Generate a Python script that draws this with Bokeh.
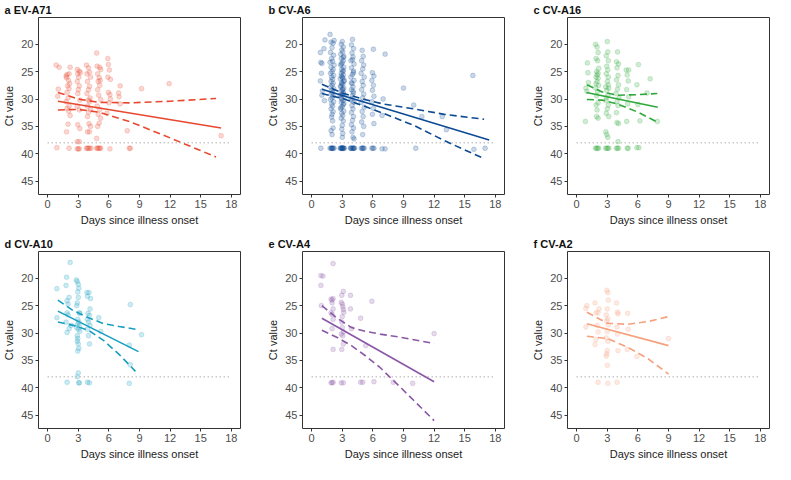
from bokeh.plotting import figure
from bokeh.layouts import column, row
from bokeh.models import Range1d, FixedTicker, Title
from bokeh.embed import file_html
from bokeh.resources import INLINE

FONT = "Liberation Sans"

x_ticks = [0, 3, 6, 9, 12, 15, 18]
y_ticks = [20, 25, 30, 35, 40, 45]
lod_x = [0, 18]
lod_ct = 38

# ---------------- data ----------------
ev_a71_pts = [
    (0.83, 23.8), (1.13, 24.2), (1.04, 28.2), (0.98, 29.5), (0.9, 38.9),
    (1.8, 25.8), (1.9, 25.5), (2.1, 25.4), (2.2, 24.2), (1.85, 26.1), (2.05, 26.6), (2.15, 27.2),
    (1.95, 27.6), (2.1, 28.1), (1.9, 28.8), (2.0, 29.8), (1.8, 30.5), (2.1, 31.3), (1.9, 31.7),
    (2.05, 32.2), (2.0, 34.6), (1.85, 36.0), (2.1, 39.0), (2.2, 33.0),
    (2.9, 24.6), (3.1, 24.9), (3.2, 25.2), (2.95, 25.4), (3.05, 26.0), (2.9, 26.8), (3.1, 27.6),
    (3.0, 28.3), (2.95, 29.0), (3.15, 30.2), (2.9, 31.3), (3.1, 32.0), (2.95, 34.7), (3.15, 35.4),
    (2.9, 37.8), (3.1, 37.8), (2.9, 39.1), (3.0, 39.1), (3.1, 39.1),
    (3.8, 23.8), (4.0, 24.3), (4.1, 25.1), (3.85, 25.4), (4.2, 26.0), (3.9, 26.8), (4.1, 27.7),
    (4.0, 28.3), (3.85, 29.0), (4.15, 29.8), (4.0, 30.2), (4.1, 30.5), (3.9, 31.3), (4.2, 31.9),
    (4.0, 32.4), (3.9, 33.2), (4.05, 34.5), (4.2, 35.0), (3.9, 36.0), (4.1, 36.0),
    (3.8, 39.0), (3.9, 39.0), (4.0, 39.0), (4.1, 39.0), (4.25, 39.0),
    (4.8, 21.6), (4.85, 24.0), (5.1, 24.2), (5.2, 24.6), (4.9, 25.4), (5.05, 26.1), (5.15, 26.6),
    (4.95, 26.8), (5.1, 27.5), (4.9, 28.3), (5.0, 29.3), (5.2, 30.1), (4.85, 31.3), (5.1, 31.9),
    (4.95, 32.8), (5.2, 33.5), (5.05, 34.4), (4.9, 35.0), (4.8, 37.2),
    (4.8, 39.0), (4.9, 39.0), (5.0, 39.0), (5.1, 39.0), (5.2, 39.0),
    (5.9, 22.6), (5.95, 23.7), (6.05, 24.7), (5.9, 26.0), (6.15, 26.4), (5.95, 28.8), (6.1, 29.2),
    (6.15, 30.0), (6.0, 30.7), (5.8, 32.6), (6.1, 39.1),
    (7.1, 27.6), (6.95, 28.9), (7.0, 29.6), (7.1, 30.9),
    (7.8, 35.8), (8.0, 39.0), (8.1, 39.0),
    (9.2, 28.1), (11.9, 27.2), (17.0, 36.7),
]

cv_a6_pts = [
    (0.85, 21.5), (0.9, 23.3), (1.0, 23.5), (0.95, 25.3), (0.85, 26.7), (1.05, 28.5), (1.0, 29.3),
    (1.25, 30.3), (0.9, 39.0), (1.3, 19.2), (1.2, 20.8),
    (1.8, 18.2), (2.2, 19.3), (1.9, 19.6), (2.1, 19.8), (2.0, 20.6), (1.85, 21.5), (2.15, 22.0),
    (1.95, 22.6), (2.05, 23.1), (1.8, 23.3), (2.2, 23.8), (1.9, 24.2), (2.1, 24.6), (2.0, 25.0),
    (1.85, 25.3), (2.15, 25.7), (1.95, 26.0), (2.05, 26.4), (1.9, 26.8), (2.1, 27.1), (2.0, 27.5),
    (1.85, 27.8), (2.15, 28.1), (1.95, 28.4), (2.05, 28.8), (1.9, 29.1), (2.1, 29.4), (2.0, 29.8),
    (1.85, 30.1), (2.15, 30.5), (1.95, 30.9), (2.05, 31.3), (1.9, 31.8), (2.1, 32.3), (2.0, 32.8),
    (1.95, 33.3), (2.05, 34.0), (2.1, 35.3), (1.9, 35.8), (2.0, 36.5),
    (1.8, 39.0), (1.9, 39.0), (1.95, 39.0), (2.0, 39.0), (2.05, 39.0), (2.1, 39.0), (2.2, 39.0),
    (3.0, 19.5), (2.9, 20.0), (3.1, 20.5), (2.95, 21.0), (3.05, 21.4), (2.85, 21.8), (3.15, 22.2),
    (2.9, 22.6), (3.1, 23.0), (3.0, 23.4), (2.85, 23.8), (3.15, 24.2), (2.95, 24.6), (3.05, 25.0),
    (2.9, 25.3), (3.1, 25.6), (3.0, 26.0), (2.8, 26.3), (3.2, 26.6), (2.95, 27.0), (3.05, 27.3),
    (2.85, 27.6), (3.15, 28.0), (3.0, 28.3), (2.9, 28.6), (3.1, 29.0), (2.8, 29.3), (3.2, 29.6),
    (2.95, 30.0), (3.05, 30.3), (2.9, 30.6), (3.1, 31.0), (3.0, 31.4), (2.85, 31.8), (3.15, 32.2),
    (2.95, 32.6), (3.05, 33.0), (2.9, 33.5), (3.1, 34.0), (3.0, 34.8), (2.95, 35.5), (3.05, 36.3),
    (3.0, 37.0), (3.1, 22.4), (2.9, 23.6), (3.1, 24.8), (2.9, 25.8), (3.15, 26.8), (2.85, 27.8),
    (3.1, 28.8), (2.9, 29.8), (3.15, 30.8), (2.85, 31.6), (3.05, 26.2), (2.95, 27.2), (3.05, 28.2),
    (2.95, 29.2),
    (2.8, 39.0), (2.85, 39.0), (2.9, 39.0), (2.95, 39.0), (3.0, 39.0), (3.05, 39.0), (3.1, 39.0),
    (3.15, 39.0), (3.2, 39.0), (3.0, 38.9),
    (4.0, 19.1), (3.9, 20.1), (4.1, 20.8), (3.95, 21.6), (4.05, 22.3), (3.85, 23.0), (4.15, 23.6),
    (3.9, 24.3), (4.1, 24.9), (4.0, 25.5), (3.85, 26.0), (4.15, 26.6), (3.95, 27.2), (4.05, 27.8),
    (3.9, 28.3), (4.1, 28.9), (4.0, 29.4), (3.85, 30.0), (4.15, 30.6), (3.95, 31.2), (4.05, 31.8),
    (3.9, 32.5), (4.1, 33.2), (4.0, 33.9), (3.9, 34.7), (4.1, 35.3), (3.95, 36.0), (4.05, 37.0),
    (4.15, 37.3), (4.1, 25.2), (3.9, 27.0), (4.05, 28.6), (3.95, 30.3), (4.0, 22.8),
    (3.8, 39.0), (3.85, 39.0), (3.9, 39.0), (4.0, 39.0), (4.05, 39.0), (4.1, 39.0), (4.15, 39.0),
    (4.2, 39.0),
    (4.95, 21.1), (5.05, 22.2), (4.9, 23.0), (5.1, 23.8), (5.0, 24.5), (4.85, 25.3), (5.15, 26.0),
    (4.95, 26.8), (5.05, 27.5), (4.9, 28.3), (5.1, 29.1), (5.0, 29.8), (4.85, 30.6), (5.15, 31.5),
    (4.95, 32.3), (5.05, 33.2), (4.9, 34.2), (5.1, 35.0), (5.0, 36.5),
    (4.85, 39.0), (4.95, 39.0), (5.0, 39.0), (5.05, 39.0), (5.15, 39.0),
    (6.05, 20.9), (5.95, 25.2), (6.1, 25.8), (5.9, 26.6), (6.05, 27.5), (5.95, 28.4), (6.1, 29.5),
    (5.9, 30.5), (6.05, 31.7), (5.95, 32.8), (6.1, 34.5),
    (5.9, 39.0), (6.0, 39.0), (6.1, 39.0),
    (7.2, 21.8), (7.0, 30.0), (6.9, 33.0), (6.9, 39.1), (7.2, 39.1),
    (9.0, 28.0), (10.0, 31.1), (10.2, 39.0), (10.8, 33.2), (12.8, 33.2), (13.2, 35.6),
    (15.8, 25.7), (15.9, 39.2), (17.0, 39.0),
]

cv_a16_pts = [
    (0.85, 34.1), (0.9, 28.0), (1.0, 28.6), (1.05, 23.4), (1.1, 25.2), (1.15, 27.0),
    (1.85, 20.0), (2.0, 20.5), (2.1, 21.5), (1.9, 22.6), (2.05, 23.0), (2.15, 24.4), (1.95, 25.0),
    (2.1, 25.3), (1.9, 26.0), (2.0, 26.8), (2.15, 27.5), (1.85, 28.0), (2.05, 28.6), (1.95, 29.4),
    (2.1, 30.7), (1.9, 31.1), (2.0, 32.0), (1.95, 33.2), (2.1, 33.5), (2.0, 25.6), (2.1, 26.2),
    (1.9, 27.2),
    (1.85, 39.0), (1.95, 39.0), (2.05, 39.0), (2.15, 39.0),
    (3.0, 19.5), (3.05, 21.4), (2.9, 22.1), (3.1, 23.0), (2.95, 24.0), (3.05, 24.7), (2.9, 25.4),
    (3.1, 26.0), (3.0, 26.8), (2.85, 27.8), (3.15, 28.0), (2.95, 28.4), (3.05, 29.3), (2.9, 30.3),
    (3.1, 31.1), (3.0, 31.8), (2.9, 32.6), (3.15, 33.2), (2.85, 36.0), (2.95, 36.5), (3.05, 37.0),
    (3.1, 27.4), (2.9, 29.8),
    (2.85, 39.0), (2.95, 39.0), (3.05, 39.0), (3.15, 39.0),
    (4.0, 21.4), (3.9, 23.2), (4.1, 23.6), (3.95, 24.3), (4.05, 25.7), (3.9, 26.5), (4.1, 27.4),
    (4.0, 28.2), (3.85, 29.0), (4.15, 29.8), (3.95, 30.5), (4.05, 31.2), (3.9, 32.5), (3.95, 34.3),
    (4.1, 34.5), (4.05, 37.8),
    (3.9, 39.0), (4.0, 39.0), (4.1, 39.0),
    (4.85, 24.7), (5.1, 24.7), (4.95, 25.6), (5.05, 26.7), (4.9, 28.3), (5.1, 29.6), (5.0, 30.9),
    (4.9, 34.1), (4.95, 39.0), (5.05, 39.0),
    (6.05, 23.7), (5.9, 27.4), (6.0, 31.0), (6.2, 34.0), (5.9, 38.9), (6.1, 38.9),
    (7.2, 26.3), (6.9, 28.9), (7.9, 34.1),
]

cv_a10_pts = [
    (0.9, 21.9), (0.9, 27.2), (1.8, 21.3), (1.85, 19.8), (1.9, 24.1), (2.0, 24.7), (1.9, 26.3),
    (1.8, 28.0), (1.9, 29.9), (2.1, 23.5), (2.2, 17.1), (2.0, 26.7), (2.1, 29.2), (2.3, 28.6),
    (1.9, 39.0),
    (2.8, 20.3), (2.9, 20.6), (3.0, 21.1), (3.05, 21.8), (2.95, 22.5), (3.0, 23.5), (2.9, 24.5),
    (2.85, 25.0), (3.1, 26.3), (3.15, 26.4), (2.95, 27.5), (3.05, 28.0), (2.9, 28.5), (3.1, 28.7),
    (2.85, 29.0), (3.0, 29.3), (3.15, 29.7), (2.9, 30.5), (2.95, 31.0), (2.9, 31.5), (3.0, 32.0),
    (3.05, 32.8), (2.95, 33.3), (3.0, 37.3), (2.9, 38.0), (3.05, 39.1), (3.1, 39.1),
    (3.85, 22.6), (4.05, 22.6), (3.9, 23.3), (4.2, 23.7), (4.15, 25.6), (3.95, 26.4), (4.1, 26.8),
    (3.9, 27.5), (4.0, 28.0), (4.15, 28.6), (3.9, 29.3), (4.0, 30.5), (4.1, 32.0), (3.9, 39.0),
    (4.1, 39.1),
    (5.0, 27.2), (5.2, 29.7),
    (8.1, 24.8), (8.0, 32.2), (8.1, 35.8), (8.0, 39.2), (9.2, 30.3),
]

cv_a4_pts = [
    (0.9, 19.5), (1.1, 19.6), (0.9, 21.3), (0.95, 25.0),
    (2.1, 17.3), (1.9, 23.8), (2.0, 24.0), (2.1, 23.7), (2.0, 24.5), (2.1, 25.6), (1.9, 26.3),
    (2.0, 26.6), (2.1, 27.5), (2.0, 29.2), (2.1, 33.0), (1.9, 39.1), (2.0, 39.1), (2.1, 39.0),
    (3.1, 22.4), (2.95, 23.1), (2.9, 24.4), (3.0, 24.7), (3.05, 25.2), (3.1, 25.7), (3.15, 26.2),
    (3.0, 27.0), (2.95, 28.0), (3.0, 29.0), (3.1, 29.8), (2.9, 30.2), (3.05, 30.5), (3.1, 32.0),
    (2.95, 33.0), (2.9, 39.1), (3.1, 39.1),
    (3.8, 23.1), (3.8, 25.6), (3.9, 29.2), (4.8, 27.3), (4.8, 39.0), (5.0, 39.0), (5.3, 32.3),
    (5.9, 24.2), (6.1, 38.9), (8.0, 39.0), (9.9, 39.2), (12.0, 30.1),
]

cv_a2_pts = [
    (0.9, 25.5), (1.0, 25.0), (0.9, 28.9),
    (1.8, 24.5), (1.9, 26.3), (2.0, 28.6), (2.1, 29.8), (1.9, 31.2), (1.8, 32.1), (2.1, 26.3),
    (2.2, 25.6), (2.1, 39.0),
    (2.95, 22.2), (3.05, 22.6), (3.1, 24.0), (3.0, 25.6), (2.9, 26.7), (3.05, 27.4), (2.95, 27.8),
    (3.1, 28.5), (3.0, 29.7), (2.9, 30.9), (3.05, 31.5), (3.0, 33.2), (2.95, 33.8), (2.9, 34.2),
    (3.0, 35.9), (3.05, 39.2),
    (3.9, 24.5), (4.0, 26.2), (4.05, 26.5), (3.95, 28.9), (4.0, 30.2), (4.05, 33.2), (3.95, 39.0),
    (5.0, 26.4), (5.05, 29.3), (4.95, 33.0), (5.9, 34.3), (9.0, 31.0),
]

# fitted line (start / end) and confidence band read at several days
ev_a71_fit_x = [1.0, 17.0]
ev_a71_fit_ct = [30.4, 35.3]
ev_a71_ci_x = [1.0, 3.0, 5.0, 8.0, 12.0, 16.5]
ev_a71_ci_lo = [28.8, 30.0, 30.6, 30.7, 30.4, 29.9]
ev_a71_ci_hi = [32.0, 31.9, 32.4, 34.1, 37.1, 40.6]

cv_a6_fit_x = [1.0, 17.4]
cv_a6_fit_ct = [28.2, 37.5]
cv_a6_ci_x = [1.0, 3.0, 5.0, 7.0, 10.0, 13.0, 16.9]
cv_a6_ci_lo = [27.3, 28.9, 30.0, 30.9, 31.8, 32.8, 33.7]
cv_a6_ci_hi = [29.0, 29.9, 31.2, 32.6, 34.8, 37.6, 40.9]

cv_a16_fit_x = [0.95, 7.95]
cv_a16_fit_ct = [28.8, 31.5]
cv_a16_ci_x = [1.0, 2.5, 4.0, 6.0, 7.9]
cv_a16_ci_lo = [27.4, 28.7, 29.3, 29.2, 29.0]
cv_a16_ci_hi = [30.1, 30.2, 30.9, 32.4, 34.2]

cv_a10_fit_x = [1.0, 8.9]
cv_a10_fit_ct = [26.0, 33.4]
cv_a10_ci_x = [1.0, 2.5, 4.0, 5.5, 7.0, 8.6, 8.9]
cv_a10_ci_lo = [24.0, 25.9, 27.2, 28.3, 28.8, 29.3, 29.4]
cv_a10_ci_hi = [28.0, 28.6, 29.5, 31.4, 33.9, 37.0, None]

cv_a4_fit_x = [1.0, 12.0]
cv_a4_fit_ct = [27.3, 38.9]
cv_a4_ci_x = [1.0, 2.5, 3.9, 5.3, 6.7, 8.8, 12.0]
cv_a4_ci_lo = [25.0, 27.3, 29.0, 29.7, 30.2, 30.8, 31.9]
cv_a4_ci_hi = [29.5, 30.8, 32.3, 34.2, 36.3, 40.1, 46.0]

cv_a2_fit_x = [1.0, 9.0]
cv_a2_fit_ct = [28.3, 32.3]
cv_a2_ci_x = [1.0, 3.0, 5.0, 7.0, 9.0]
cv_a2_ci_lo = [26.2, 28.2, 28.4, 27.9, 27.0]
cv_a2_ci_hi = [30.6, 31.0, 32.6, 34.7, 37.5]

panels = [
    ("a", "EV-A71", "#E8482F", ev_a71_pts, ev_a71_fit_x, ev_a71_fit_ct, ev_a71_ci_x, ev_a71_ci_lo, ev_a71_ci_hi),
    ("b", "CV-A6", "#0C4A93", cv_a6_pts, cv_a6_fit_x, cv_a6_fit_ct, cv_a6_ci_x, cv_a6_ci_lo, cv_a6_ci_hi),
    ("c", "CV-A16", "#2FA83B", cv_a16_pts, cv_a16_fit_x, cv_a16_fit_ct, cv_a16_ci_x, cv_a16_ci_lo, cv_a16_ci_hi),
    ("d", "CV-A10", "#179FC0", cv_a10_pts, cv_a10_fit_x, cv_a10_fit_ct, cv_a10_ci_x, cv_a10_ci_lo, cv_a10_ci_hi),
    ("e", "CV-A4", "#8A57A6", cv_a4_pts, cv_a4_fit_x, cv_a4_fit_ct, cv_a4_ci_x, cv_a4_ci_lo, cv_a4_ci_hi),
    ("f", "CV-A2", "#F6A07C", cv_a2_pts, cv_a2_fit_x, cv_a2_fit_ct, cv_a2_ci_x, cv_a2_ci_lo, cv_a2_ci_hi),
]

# ---------------- layout ----------------
col_w = [264, 265, 246]
col_r = [24, 25, 6]
row_h = [234, 229]
row_b = [40, 35]
LEFT = 34
TOP = 14


def make_fig(i, letter, name, color, pts, fx, fy, cx, clo, chi):
    c = i % 3
    r = i // 3
    p = figure(width=col_w[c], height=row_h[r],
               x_range=Range1d(-0.9, 18.9), y_range=Range1d(47.45, 15.1),
               output_backend="svg", toolbar_location=None,
               min_border_left=LEFT, min_border_right=col_r[c],
               min_border_top=TOP, min_border_bottom=row_b[r])
    p.add_layout(Title(text=f"{letter}  {name}", align="left", offset=-34,
                       text_font=FONT, text_font_size="11px", text_font_style="bold",
                       text_color="#111111", standoff=3), "above")
    p.xgrid.visible = False
    p.ygrid.visible = False
    p.outline_line_color = "#333333"
    p.outline_line_width = 1
    p.background_fill_color = "white"
    p.border_fill_color = "white"

    for ax in (p.xaxis[0], p.yaxis[0]):
        ax.axis_line_color = None
        ax.major_tick_line_color = "#333333"
        ax.major_tick_out = 3
        ax.major_tick_in = 0
        ax.minor_tick_out = 0
        ax.minor_tick_in = 0
        ax.major_label_standoff = 2
        ax.axis_label_standoff = 3
        ax.major_label_text_font = FONT
        ax.major_label_text_font_size = "11px"
        ax.major_label_text_color = "#4D4D4D"
        ax.axis_label_text_font = FONT
        ax.axis_label_text_font_size = "11px"
        ax.axis_label_text_font_style = "normal"
        ax.axis_label_text_color = "#222222"
    p.xaxis[0].ticker = FixedTicker(ticks=x_ticks)
    p.yaxis[0].ticker = FixedTicker(ticks=y_ticks)
    p.xaxis[0].axis_label = "Days since illness onset"
    p.yaxis[0].axis_label = "Ct value"

    xs = [q[0] for q in pts]
    ys = [q[1] for q in pts]
    p.scatter(xs, ys, size=4.8, fill_color=color, fill_alpha=0.22,
              line_color=color, line_alpha=0.3, line_width=0.7)

    p.line(lod_x, [lod_ct, lod_ct], line_color="#B0B0B0", line_width=1.4, line_dash="1 3")

    p.line(fx, fy, line_color=color, line_width=1.6)
    lo_x = [x for x, v in zip(cx, clo) if v is not None]
    lo_y = [v for v in clo if v is not None]
    hi_x = [x for x, v in zip(cx, chi) if v is not None]
    hi_y = [v for v in chi if v is not None]
    p.line(lo_x, lo_y, line_color=color, line_width=1.6, line_dash="7 4")
    p.line(hi_x, hi_y, line_color=color, line_width=1.6, line_dash="7 4")
    return p


figs = [make_fig(i, *pn) for i, pn in enumerate(panels)]
layout = column(row(*figs[:3]), row(*figs[3:]))

open("out.html", "w").write(file_html(layout, INLINE))
